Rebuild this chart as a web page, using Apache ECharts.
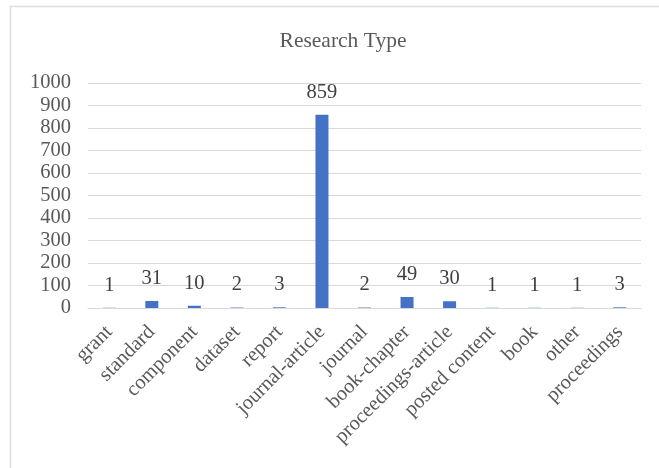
<!DOCTYPE html>
<html>
<head>
<meta charset="utf-8">
<script src="https://cdn.jsdelivr.net/npm/echarts@6/dist/echarts.min.js"></script>
<style>
html,body{margin:0;padding:0;background:#fff;}
#chart{width:659px;height:468px;}
</style>
</head>
<body>
<div id="chart"></div>
<script>
const titleText = "Research Type";
const categories = ["grant","standard","component","dataset","report","journal-article","journal","book-chapter","proceedings-article","posted content","book","other","proceedings"];
const counts = [1,31,10,2,3,859,2,49,30,1,1,1,3];
const yMin = 0, yMax = 1000, yStep = 100;

const font = "'Liberation Serif', 'Times New Roman', serif";
const textColor = "#595959";
const chart = echarts.init(document.getElementById('chart'), null, {renderer:'canvas'});
chart.setOption({
  backgroundColor: '#ffffff',
  animation: false,
  title: {
    text: titleText,
    left: 338, top: 25, textAlign: 'center',
    textStyle: {fontFamily: font, fontSize: 21.5, fontWeight: 'normal', color: textColor}
  },
  graphic: [{
    type: 'rect', shape: {x: 10.5, y: 6.5, width: 700, height: 500},
    style: {fill: 'none', stroke: '#dcdcdc', lineWidth: 1.5}, silent: true
  }],
  grid: {left: 88, right: 18, top: 83, bottom: 160, containLabel: false},
  xAxis: {
    type: 'category', data: categories,
    axisLine: {show: true, lineStyle: {color: '#d9d9d9', width: 1}},
    axisTick: {show: false},
    axisLabel: {rotate: 45, interval: 0, margin: 21, fontFamily: font, fontSize: 20.5, color: textColor}
  },
  yAxis: {
    type: 'value', min: yMin, max: yMax, interval: yStep,
    axisLine: {show: false}, axisTick: {show: false},
    splitLine: {lineStyle: {color: '#d9d9d9', width: 1}},
    axisLabel: {margin: 17, fontFamily: font, fontSize: 20.5, color: textColor, formatter: v => String(v)}
  },
  series: [{
    type: 'bar', data: counts, barWidth: 13,
    itemStyle: {color: '#4472C4'},
    label: {show: true, position: 'top', distance: 12, fontFamily: font, fontSize: 20.5, color: '#404040'}
  }]
});
</script>
</body>
</html>
